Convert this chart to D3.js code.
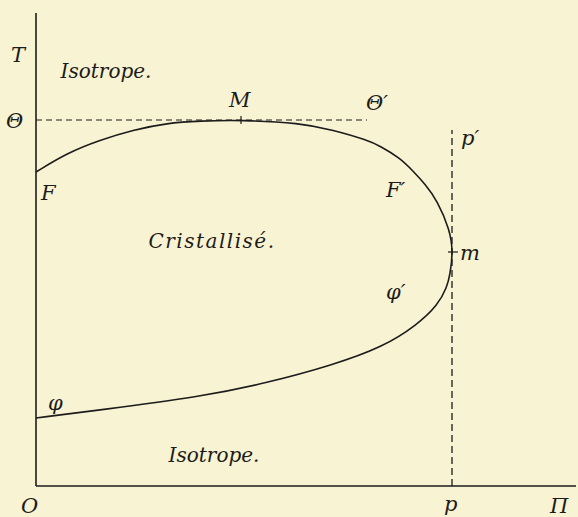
<!DOCTYPE html>
<html>
<head>
<meta charset="utf-8">
<script src="https://cdn.jsdelivr.net/npm/d3@7"></script>
<style>
body { margin: 0; background: #f8f3d2; }
svg { display: block; }
</style>
</head>
<body>
<script>
// boundary of the crystallised region, upper branch (F -> M -> m)
var upperPi = [0, 31, 64, 97, 131, 164, 205, 264, 297, 331, 344, 364, 377, 389, 401, 414, 417];
var upperT  = [314, 333, 346, 356, 363, 365, 366, 363, 356, 346, 340, 328, 315, 302, 286, 256, 234];
// lower branch (m -> phi' -> phi)
var lowerPi = [417, 414, 411, 402, 381, 347, 297, 231, 164, 64, 0];
var lowerT  = [234, 211, 199, 181, 161, 139, 121, 103, 89, 76, 68];

var thetaT = 366, thetaEnd = 331;   // dashed line Θ Θ'
var pPi = 416, pTop = 356;          // dashed line p p'
var pointM = [205, 366], pointm = [417, 234];

var regionLabels = ["Isotrope.", "Cristallisé.", "Isotrope."];
var regionPi = [70, 176, 178];
var regionT  = [408, 238, 24];

function main(){
	var w = 578, h = 517;
	var font = "'DejaVu Serif', serif";

	var svg = d3.select("body").append("svg")
		.attr("width", w)
		.attr("height", h);

	var x = d3.scaleLinear().domain([0, 540]).range([36, 576]);
	var y = d3.scaleLinear().domain([0, 473]).range([486, 13]);

	var ink = "#1c1c1c";

	// axes
	svg.append("line")
		.attr("x1", x(0)).attr("y1", y(0))
		.attr("x2", x(0)).attr("y2", y(473))
		.attr("stroke", ink).attr("stroke-width", 1.6);
	svg.append("line")
		.attr("x1", x(0)).attr("y1", y(0))
		.attr("x2", x(540)).attr("y2", y(0))
		.attr("stroke", ink).attr("stroke-width", 1.6);

	// dashed lines
	svg.append("line")
		.attr("x1", x(0)).attr("y1", y(thetaT))
		.attr("x2", x(thetaEnd)).attr("y2", y(thetaT))
		.attr("stroke", ink).attr("stroke-width", 1.2)
		.attr("stroke-dasharray", "6,4");
	svg.append("line")
		.attr("x1", x(pPi)).attr("y1", y(0))
		.attr("x2", x(pPi)).attr("y2", y(pTop))
		.attr("stroke", ink).attr("stroke-width", 1.3)
		.attr("stroke-dasharray", "7,4");

	var pts = upperPi.map((d, i) => [d, upperT[i]])
		.concat(lowerPi.slice(1).map((d, i) => [d, lowerT[i + 1]]));

	var line = d3.line()
		.x(d => x(d[0]))
		.y(d => y(d[1]))
		.curve(d3.curveBasis);

	svg.append("path")
		.attr("d", line(pts))
		.attr("fill", "none")
		.attr("stroke", ink)
		.attr("stroke-width", 1.6);

	// small ticks at M and m
	svg.append("line")
		.attr("x1", x(pointM[0])).attr("y1", y(pointM[1]) - 4)
		.attr("x2", x(pointM[0])).attr("y2", y(pointM[1]) + 4)
		.attr("stroke", ink).attr("stroke-width", 1.2);
	svg.append("line")
		.attr("x1", x(pointm[0]) - 5).attr("y1", y(pointm[1]))
		.attr("x2", x(pointm[0]) + 5).attr("y2", y(pointm[1]))
		.attr("stroke", ink).attr("stroke-width", 1.2);

	// region names
	svg.selectAll(".region")
		.data(regionLabels)
		.enter()
		.append("text")
		.attr("class", "region")
		.attr("x", (d, i) => x(regionPi[i]))
		.attr("y", (d, i) => y(regionT[i]))
		.attr("text-anchor", "middle")
		.attr("font-family", font)
		.attr("font-style", "italic")
		.attr("font-size", 20)
		.attr("letter-spacing", (d, i) => i == 1 ? 1.5 : 0)
		.attr("fill", ink)
		.text(d => d);

	// point / axis letters
	var letters = [
		{t: "T", px: 11, py: 62},
		{t: "Θ", px: 6, py: 128},
		{t: "M", px: 229, py: 107},
		{t: "Θ′", px: 366, py: 110},
		{t: "F", px: 41, py: 200},
		{t: "F′", px: 386, py: 197},
		{t: "p′", px: 461, py: 145},
		{t: "m", px: 460, py: 260},
		{t: "φ′", px: 386, py: 299},
		{t: "φ", px: 48, py: 410},
		{t: "O", px: 21, py: 513},
		{t: "p", px: 444, py: 511},
		{t: "Π", px: 550, py: 513}
	];
	svg.selectAll(".letter")
		.data(letters)
		.enter()
		.append("text")
		.attr("class", "letter")
		.attr("x", d => d.px)
		.attr("y", d => d.py)
		.attr("font-family", font)
		.attr("font-style", "italic")
		.attr("font-size", 21)
		.attr("fill", ink)
		.text(d => d.t);
}

main();
</script>
</body>
</html>
